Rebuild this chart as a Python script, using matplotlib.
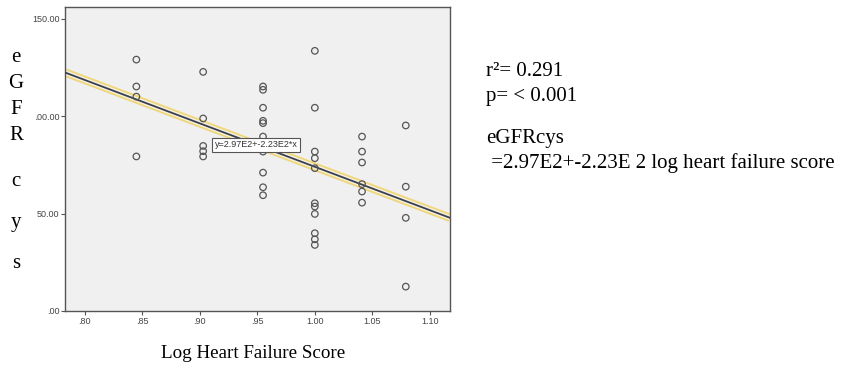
import matplotlib.pyplot as plt
import numpy as np
from matplotlib.patches import Rectangle

# log heart failure score (x) and eGFRcys (y)
score = [0.845, 0.845, 0.845, 0.845,
         0.903, 0.903, 0.903, 0.903, 0.903,
         0.955, 0.955, 0.955, 0.955, 0.955, 0.955, 0.955, 0.955, 0.955, 0.955,
         1.000, 1.000, 1.000, 1.000, 1.000, 1.000, 1.000, 1.000, 1.000, 1.000, 1.000,
         1.041, 1.041, 1.041, 1.041, 1.041, 1.041,
         1.079, 1.079, 1.079, 1.079]
egfr = [129.0, 115.2, 110.0, 79.3,
        122.7, 98.8, 84.7, 82.0, 79.3,
        115.2, 113.5, 104.3, 97.6, 96.4, 89.5, 81.8, 71.0, 63.5, 59.4,
        133.5, 104.3, 81.8, 78.4, 73.3, 55.3, 53.6, 49.8, 39.9, 36.8, 33.9,
        89.5, 81.8, 76.2, 65.1, 61.3, 55.6,
        95.2, 63.8, 47.8, 12.5]

intercept = 297.0
slope = -223.0
fit_label = "y=2.97E2+-2.23E2*x"

x_ticks = [0.80, 0.85, 0.90, 0.95, 1.00, 1.05, 1.10]
x_tick_labels = [".80", ".85", ".90", ".95", "1.00", "1.05", "1.10"]
y_ticks = [0, 50, 100, 150]
y_tick_labels = [".00", "50.00", "100.00", "150.00"]

stats_lines = ["r\u00b2= 0.291", "p= < 0.001"]
eq_lines = ["eGFRcys", " =2.97E2+-2.23E 2 log heart failure score"]
y_letters = "eGFRcys"

serif = ["Liberation Serif", "DejaVu Serif"]

fig = plt.figure(figsize=(8.43, 3.66), dpi=100)
ax = fig.add_axes([0.0771, 0.1503, 0.4567, 0.8306])
ax.set_facecolor("#f0f0f0")

ax.scatter(score, egfr, s=22, facecolors="none", edgecolors="#555555",
           linewidths=0.9, zorder=4)

xl = np.array([0.783, 1.1174])
yl = intercept + slope * xl
ax.plot(xl, yl, color="#eed67a", lw=6, solid_capstyle="butt", zorder=2)
ax.plot(xl, yl, color="#f6f1dc", lw=3.4, solid_capstyle="butt", zorder=2)
ax.plot(xl, yl, color="#3b3f52", lw=1.3, zorder=3)

ax.text(0.949, 85.3, fit_label, fontsize=6.5, family="Liberation Sans",
        color="#333333", ha="center", va="center", zorder=5,
        bbox=dict(boxstyle="square,pad=0.25", fc="white", ec="#555555", lw=0.8))

ax.set_xlim(0.783, 1.1174)
ax.set_ylim(0, 156)
ax.set_xticks(x_ticks)
ax.set_xticklabels(x_tick_labels)
ax.set_yticks(y_ticks)
ax.set_yticklabels(y_tick_labels)
ax.tick_params(direction="out", length=3, width=0.8, color="#555555",
               labelsize=6.5, labelcolor="#444444", pad=1)
for lab in ax.get_xticklabels() + ax.get_yticklabels():
    lab.set_family("Liberation Sans")
for sp in ax.spines.values():
    sp.set_color("#555555")
    sp.set_linewidth(1.0)

# white block hiding the left part of the y tick labels, as in the source image
fig.patches.append(Rectangle((0, 40 / 366), 36 / 843, 260 / 366,
                             transform=fig.transFigure, fc="white", ec="none",
                             zorder=1))

letter_y = [58, 83, 109, 136, 181, 222, 264]
for ch, yp in zip(y_letters, letter_y):
    fig.text(16 / 843, 1 - yp / 366, ch, fontsize=15, family=serif,
             ha="center", va="center")

fig.text(253 / 843, 1 - 353 / 366, "Log Heart Failure Score", fontsize=13.7,
         family=serif, ha="center", va="center")

for txt, yp in zip(stats_lines, [72, 96]):
    fig.text(486 / 843, 1 - yp / 366, txt, fontsize=15, family=serif,
             ha="left", va="center")
for txt, yp in zip(eq_lines, [138, 163]):
    fig.text(486 / 843, 1 - yp / 366, txt, fontsize=15, family=serif,
             ha="left", va="center")

fig.savefig("out.png", dpi=100)
